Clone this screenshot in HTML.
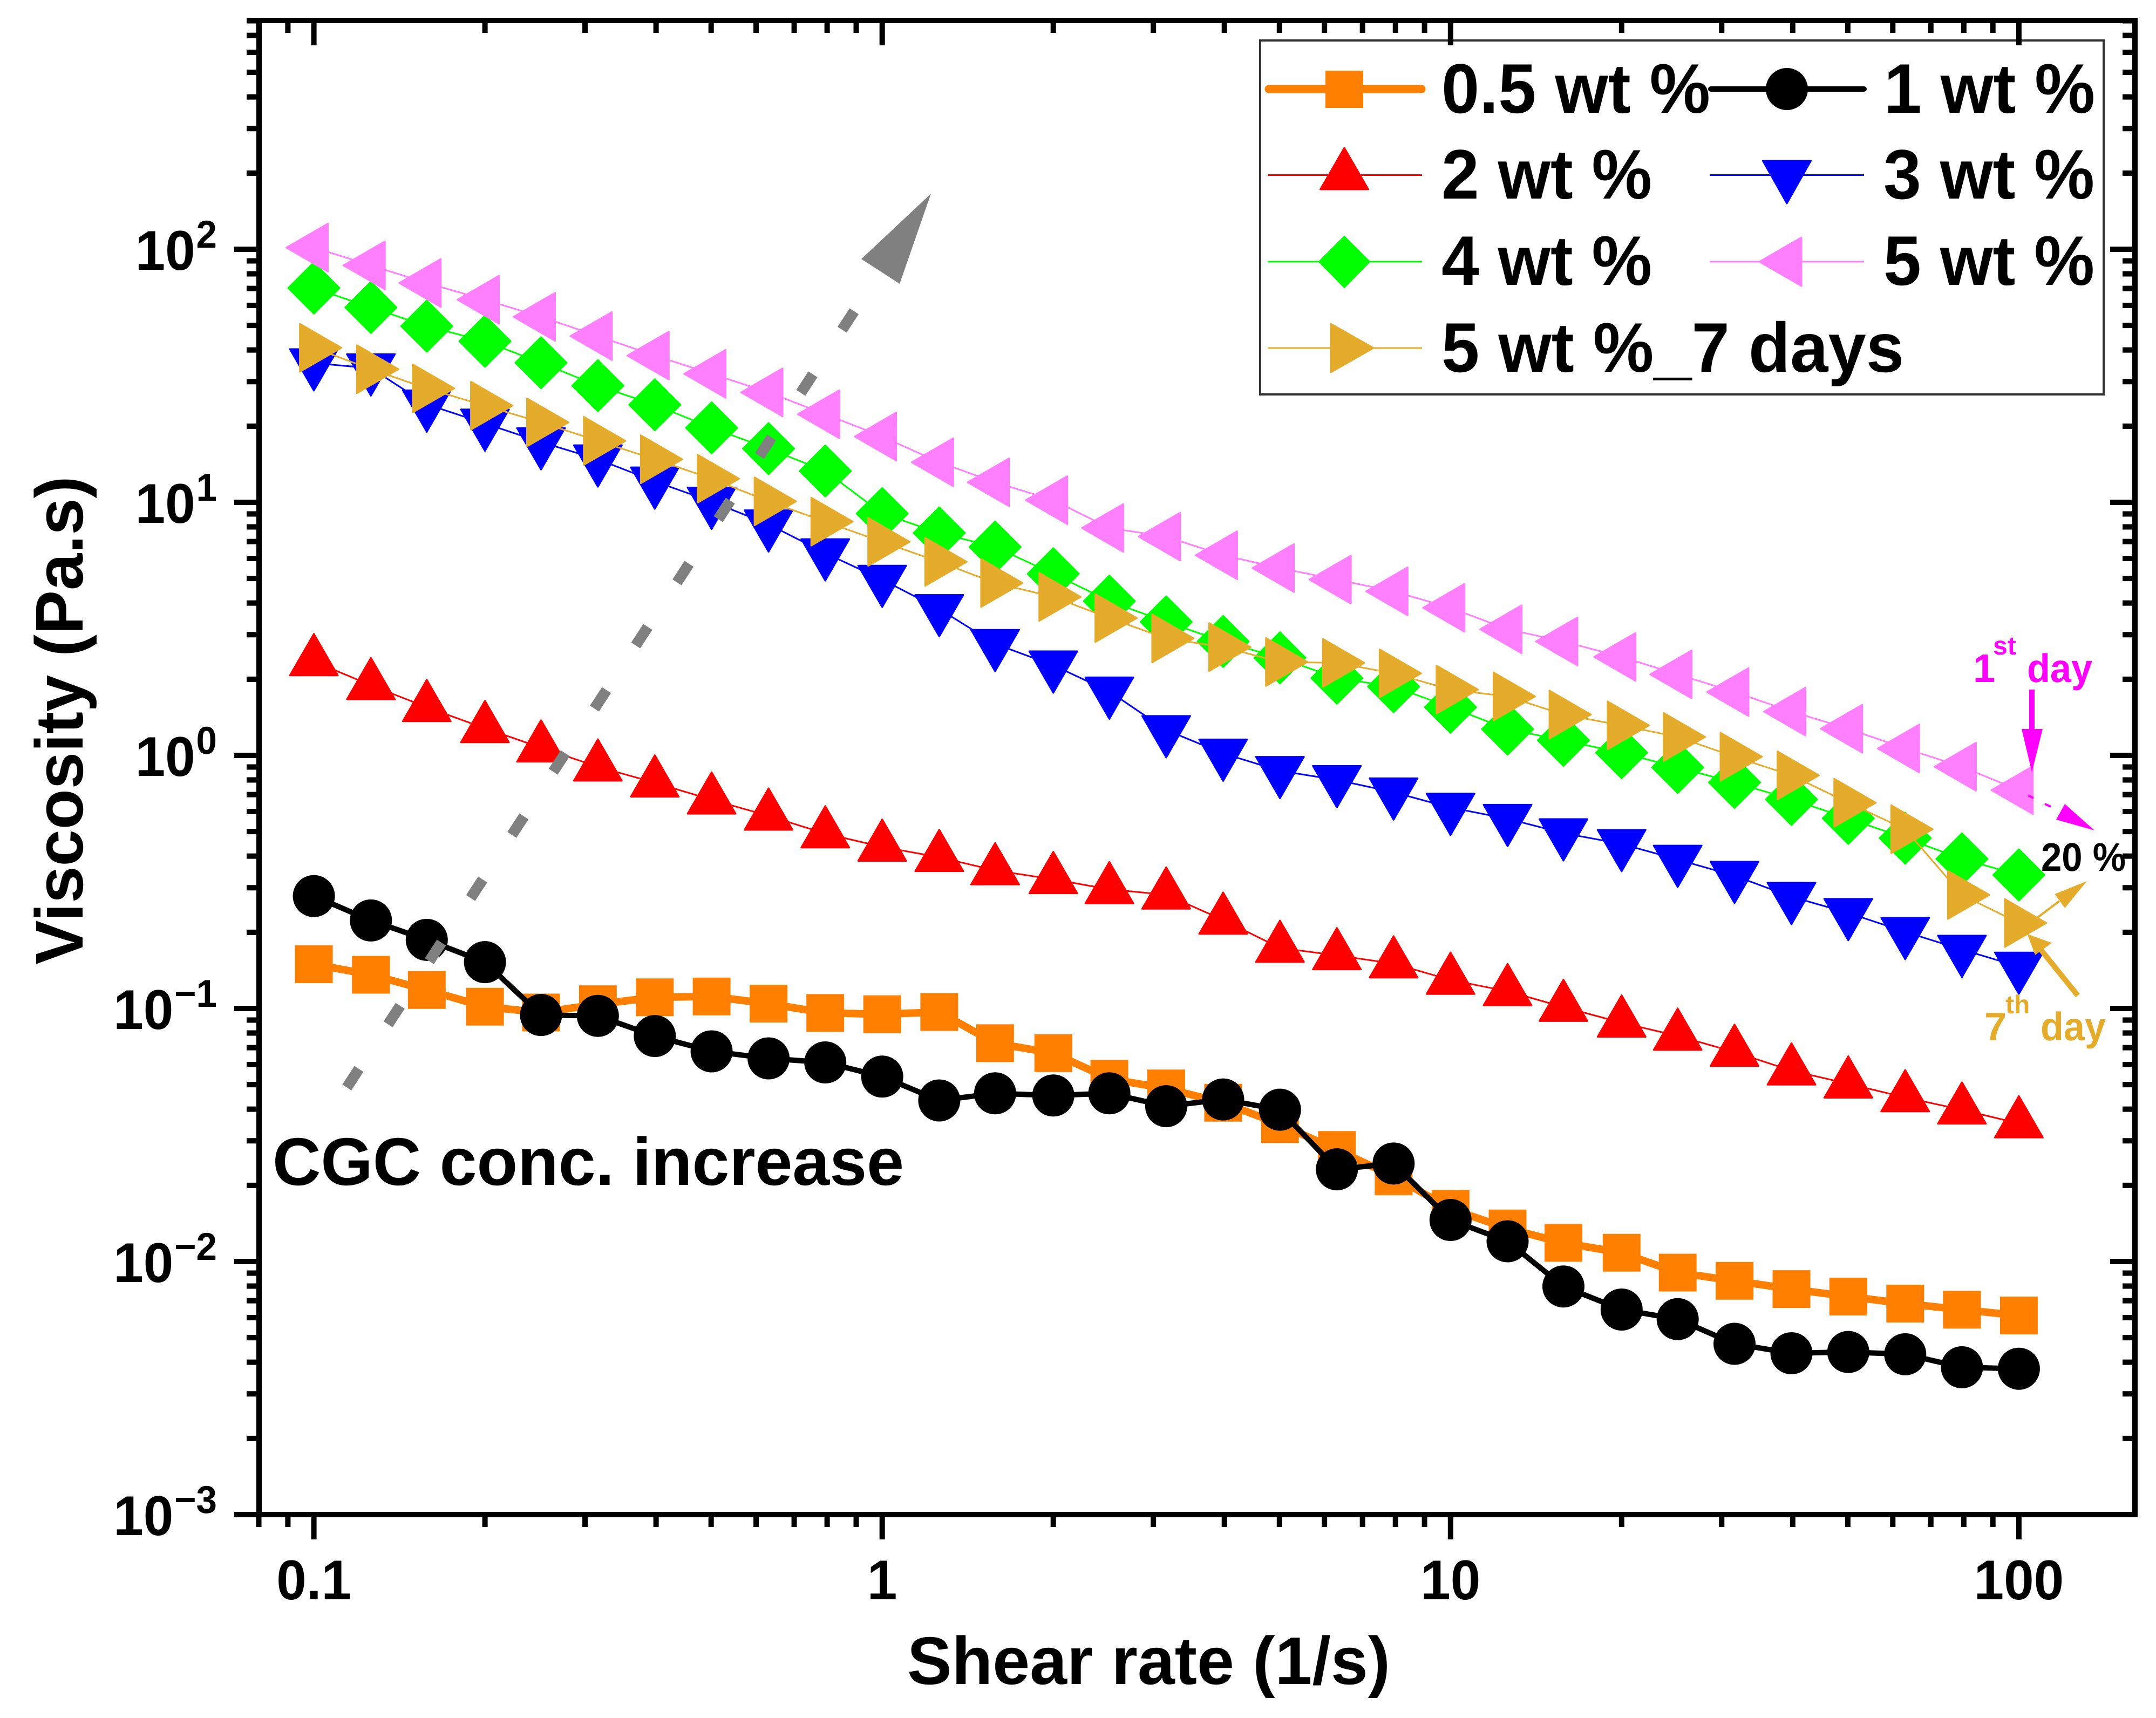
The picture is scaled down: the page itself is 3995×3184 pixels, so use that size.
<!DOCTYPE html>
<html lang="en">
<head>
<meta charset="utf-8">
<title>Viscosity vs shear rate</title>
<style>
html,body{margin:0;padding:0;background:#fff;}
svg{display:block;}
text{font-family:"Liberation Sans",Arial,sans-serif;font-weight:bold;text-rendering:geometricPrecision;}
</style>
</head>
<body>
<svg id="chart" xmlns="http://www.w3.org/2000/svg" width="3995" height="3184" viewBox="0 0 3995 3184">
  <rect x="0" y="0" width="3995" height="3184" fill="#ffffff"/>

  <g>
    <rect x="2335" y="75" width="1563" height="656" fill="#ffffff" stroke="#333333" stroke-width="4"/>
    <g>
      <line x1="2351" y1="165" x2="2634" y2="165" stroke="#FF8000" stroke-width="15" stroke-linecap="round"/>
      <rect x="2456" y="131" width="70" height="69" fill="#FF8000"/>
      <text x="2671" y="209" font-size="130" textLength="498" lengthAdjust="spacingAndGlyphs">0.5 wt %</text>
    </g>
    <g>
      <line x1="3170" y1="165" x2="3454" y2="165" stroke="#000000" stroke-width="10" stroke-linecap="round"/>
      <circle cx="3311" cy="165" r="39" fill="#000000"/>
      <text x="3491" y="209" font-size="130" textLength="391" lengthAdjust="spacingAndGlyphs">1 wt %</text>
    </g>
    <g>
      <line x1="2349" y1="324.5" x2="2635" y2="324.5" stroke="#FF0000" stroke-width="3"/>
      <polygon points="2491,274 2446.5,351 2535.5,351" fill="#FF0000" stroke="#FF0000" stroke-width="3" stroke-linejoin="round"/>
      <text x="2671" y="368" font-size="130" textLength="390" lengthAdjust="spacingAndGlyphs">2 wt %</text>
    </g>
    <g>
      <line x1="3168" y1="324.5" x2="3454" y2="324.5" stroke="#0000FF" stroke-width="3"/>
      <polygon points="3311,377 3266.5,298 3355.5,298" fill="#0000FF" stroke="#0000FF" stroke-width="3" stroke-linejoin="round"/>
      <text x="3490" y="368" font-size="130" textLength="391" lengthAdjust="spacingAndGlyphs">3 wt %</text>
    </g>
    <g>
      <line x1="2349" y1="485" x2="2635" y2="485" stroke="#00FF00" stroke-width="3"/>
      <polygon points="2491,438 2538,485 2491,533 2444,485" fill="#00FF00" stroke="#00FF00" stroke-width="2" stroke-linejoin="round"/>
      <text x="2671" y="528" font-size="130" textLength="390" lengthAdjust="spacingAndGlyphs">4 wt %</text>
    </g>
    <g>
      <line x1="3168" y1="485" x2="3454" y2="485" stroke="#FF80FF" stroke-width="3"/>
      <polygon points="3260,485 3338,440 3338,530" fill="#FF80FF" stroke="#FF80FF" stroke-width="3" stroke-linejoin="round"/>
      <text x="3490" y="528" font-size="130" textLength="391" lengthAdjust="spacingAndGlyphs">5 wt %</text>
    </g>
    <g>
      <line x1="2349" y1="645" x2="2635" y2="645" stroke="#E5AC2C" stroke-width="3"/>
      <polygon points="2545,645 2466,600 2466,690" fill="#E5AC2C" stroke="#E5AC2C" stroke-width="3" stroke-linejoin="round"/>
      <text x="2671" y="689" font-size="130" textLength="857" lengthAdjust="spacingAndGlyphs">5 wt %_7 days</text>
    </g>
  </g>

  <g id="axes"></g>
  <g id="series"></g>

  <text x="1681" y="3121" font-size="125" textLength="895" lengthAdjust="spacingAndGlyphs">Shear rate (1/s)</text>
  <text transform="translate(153,1335) rotate(-90)" x="0" y="0" text-anchor="middle" font-size="125" textLength="905" lengthAdjust="spacingAndGlyphs">Viscosity (Pa.s)</text>
  <text x="505" y="2196" font-size="125" textLength="1170" lengthAdjust="spacingAndGlyphs">CGC conc. increase</text>

  <g>
    <line x1="642.6" y1="2015.4" x2="1582.7" y2="576.8" stroke="#808080" stroke-width="20" stroke-dasharray="41 98.8"/>
    <polygon points="1725,359 1596,480 1667,526" fill="#808080"/>
  </g>

  <g fill="#FF00FF">
    <text x="3656" y="1264" font-size="74">1</text>
    <text x="3693" y="1213" font-size="48">st</text>
    <text x="3756" y="1264" font-size="74" textLength="121" lengthAdjust="spacingAndGlyphs">day</text>
    <rect x="3760" y="1278" width="10" height="74"/>
    <polygon points="3746,1351 3785,1351 3765,1431"/>
  </g>
  <g>
    <line x1="3758" y1="1474" x2="3768" y2="1479" stroke="#FF00FF" stroke-width="4"/>
    <line x1="3789" y1="1490" x2="3800" y2="1495" stroke="#FF00FF" stroke-width="4"/>
    <polygon points="3826,1490 3810,1519 3881,1539" fill="#FF00FF"/>
    <text x="3782" y="1614" font-size="74" textLength="157" lengthAdjust="spacingAndGlyphs">20 %</text>
    <line x1="3776" y1="1700" x2="3816" y2="1670" stroke="#E5AC2C" stroke-width="4"/>
    <polygon points="3867,1633 3807.5,1657 3826,1683" fill="#E5AC2C"/>
  </g>
  <g fill="#E5AC2C">
    <line x1="3850" y1="1845" x2="3780" y2="1758" stroke="#E5AC2C" stroke-width="10"/>
    <polygon points="3756.5,1731 3802,1747.5 3771,1770"/>
    <text x="3677" y="1928" font-size="74">7</text>
    <text x="3716" y="1878" font-size="48">th</text>
    <text x="3781" y="1928" font-size="74" textLength="121" lengthAdjust="spacingAndGlyphs">day</text>
  </g>
</svg>

<script>
const shearRate = [0.1,0.126,0.158,0.2,0.251,0.316,0.398,0.501,0.631,0.794,1,1.26,1.58,2,2.51,3.16,3.98,5.01,6.31,7.94,10,12.6,15.8,20,25.1,31.6,39.8,50.1,63.1,79.4,100];
const visc05 = [0.1495,0.1359,0.1183,0.1016,0.0964,0.1039,0.1107,0.1115,0.1045,0.0960,0.0949,0.0968,0.0729,0.0666,0.0527,0.0483,0.0424,0.0349,0.0276,0.0217,0.01615,0.01351,0.01185,0.01083,0.00904,0.00839,0.00778,0.00727,0.00682,0.00645,0.00612];
const visc1 = [0.278,0.2227,0.1867,0.1524,0.0942,0.0935,0.0778,0.0677,0.0635,0.0612,0.0538,0.0433,0.0462,0.0453,0.0462,0.0411,0.0437,0.0398,0.02314,0.0244,0.01459,0.01202,0.00797,0.00646,0.00592,0.00473,0.00434,0.00439,0.00430,0.00382,0.00377];
const visc2 = [2.353,1.892,1.550,1.280,1.073,0.902,0.780,0.668,0.577,0.491,0.435,0.396,0.351,0.324,0.2956,0.2815,0.2239,0.1734,0.1621,0.1504,0.1296,0.1169,0.1013,0.0878,0.0779,0.0673,0.0568,0.0504,0.0445,0.0398,0.0351];
const visc3 = [35.5,33.9,24.4,20.5,17.3,14.8,12.1,10.07,8.19,6.30,4.95,3.79,2.76,2.27,1.79,1.26,1.018,0.869,0.800,0.715,0.622,0.562,0.493,0.447,0.3875,0.3346,0.2763,0.2386,0.2008,0.1708,0.1465];
const visc4 = [70.3,58.9,49.7,43.3,35.6,28.9,24.3,19.7,16.3,13.3,9.03,7.57,6.66,5.22,4.07,3.37,2.82,2.43,2.02,1.87,1.55,1.27,1.147,1.025,0.896,0.782,0.670,0.564,0.471,0.390,0.337];
const visc5 = [101.5,86.4,73.6,63.2,54.1,45.4,38.0,32.2,27.2,22.3,18.2,14.4,12.0,10.2,7.92,7.32,6.18,5.50,4.95,4.45,3.83,3.15,2.82,2.45,2.09,1.78,1.49,1.275,1.065,0.902,0.729];
const visc5d7 = [40.8,33.6,28.2,24.1,20.7,17.5,14.8,12.4,10.09,8.39,6.98,5.82,4.80,4.23,3.49,2.90,2.68,2.34,2.32,2.11,1.82,1.71,1.45,1.314,1.183,0.988,0.834,0.650,0.511,0.281,0.2176];
const xMajorTicks = [0.1,1,10,100];
const xMajorLabels = ["0.1","1","10","100"];
const xMinorTicks = [0.08,0.09,0.2,0.3,0.4,0.5,0.6,0.7,0.8,0.9,2,3,4,5,6,7,8,9,20,30,40,50,60,70,80,90];
const yMajorTicks = [100,10,1,0.1,0.01,0.001];
const yMajorExponents = ["2","1","0","\u22121","\u22122","\u22123"];
const yMinorMultipliers = [2,3,4,5,6,7,8,9];

const SVGNS = "http://www.w3.org/2000/svg";
const axisTop = 38, axisBottom = 2807, axisLeft = 480, axisRight = 3956;
function xScale(v){ return 581.6 + 1053.1 * (Math.log10(v) + 1); }
function yScale(v){ return 462 + 469 * (2 - Math.log10(v)); }

function make(parent, tag, attrs){
  const el = document.createElementNS(SVGNS, tag);
  for (const k in attrs) el.setAttribute(k, attrs[k]);
  parent.appendChild(el);
  return el;
}

const axes = document.getElementById("axes");

function spine(name, x1, y1, x2, y2){
  const el = make(axes, "line", {x1:x1, y1:y1, x2:x2, y2:y2, stroke:"#000", "stroke-width":10});
  
  
}
spine("left-axis-line", axisLeft, axisTop - 5, axisLeft, axisBottom + 5);
spine("right-axis-line", axisRight, axisTop - 5, axisRight, axisBottom + 5);
spine("top-axis-line", 457, axisTop, axisRight + 5, axisTop);
spine("bottom-axis-line", 434, axisBottom, axisRight + 5, axisBottom);

function xTick(v, len, kind){
  const x = xScale(v);
  const a = make(axes, "line", {x1:x, y1:axisBottom, x2:x, y2:axisBottom + len, stroke:"#000", "stroke-width":10});
  
  
  const b = make(axes, "line", {x1:x, y1:axisTop, x2:x, y2:axisTop + len, stroke:"#000", "stroke-width":10});
  
  
}
function yTick(v, len, kind){
  const y = yScale(v);
  const a = make(axes, "line", {x1:axisLeft, y1:y, x2:axisLeft - len, y2:y, stroke:"#000", "stroke-width":10});
  
  
  const b = make(axes, "line", {x1:axisRight, y1:y, x2:axisRight - len, y2:y, stroke:"#000", "stroke-width":10});
  
  
}

xMinorTicks.forEach(function(v){ xTick(v, 23, "minor"); });
xMajorTicks.forEach(function(v, i){
  xTick(v, 46, "major");
  const t = make(axes, "text", {transform:"translate(" + xScale(v) + ",2964) scale(0.96,1)", "text-anchor":"middle", "font-size":104});
  t.textContent = xMajorLabels[i];
  
  
});

yMajorTicks.forEach(function(v, i){
  yTick(v, 46, "major");
  const base = yScale(v) + 38;
  const t = make(axes, "text", {transform:"translate(402," + base + ") scale(0.96,1)", "text-anchor":"end", "font-size":104});
  const a = make(t, "tspan", {});
  a.textContent = "10";
  const b = make(t, "tspan", {"font-size":72, dy:-41, dx:2});
  b.textContent = yMajorExponents[i];
  
  
});
yMajorTicks.forEach(function(v){
  yMinorMultipliers.forEach(function(m){
    const val = v * m;
    if (val <= 800) yTick(val, 23, "minor");
  });
});

const seriesList = [
  {name:"series-0-5-wt", values:visc05, color:"#FF8000", width:14, shape:"square"},
  {name:"series-1-wt", values:visc1, color:"#000000", width:10, shape:"circle"},
  {name:"series-2-wt", values:visc2, color:"#FF0000", width:3, shape:"up"},
  {name:"series-3-wt", values:visc3, color:"#0000FF", width:3, shape:"down"},
  {name:"series-4-wt", values:visc4, color:"#00FF00", width:3, shape:"diamond"},
  {name:"series-5-wt", values:visc5, color:"#FF80FF", width:3, shape:"left"},
  {name:"series-5-wt-7-days", values:visc5d7, color:"#E5AC2C", width:3, shape:"right"}
];

function marker(parent, shape, x, y, color){
  let el;
  if (shape === "square") {
    el = make(parent, "rect", {x:x - 35, y:y - 35, width:70, height:70, fill:color});
  } else if (shape === "circle") {
    el = make(parent, "circle", {cx:x, cy:y, r:39, fill:color});
  } else {
    let pts;
    if (shape === "up") pts = [[0,-51],[-44.5,26],[44.5,26]];
    if (shape === "down") pts = [[0,51],[-44.5,-26],[44.5,-26]];
    if (shape === "left") pts = [[-51,0],[26,-44.5],[26,44.5]];
    if (shape === "right") pts = [[51,0],[-26,-44.5],[-26,44.5]];
    if (shape === "diamond") pts = [[0,-47.5],[47.5,0],[0,47.5],[-47.5,0]];
    el = make(parent, "polygon", {
      points: pts.map(function(p){ return (x + p[0]) + "," + (y + p[1]); }).join(" "),
      fill:color, stroke:color, "stroke-width":3, "stroke-linejoin":"round"
    });
  }
  return el;
}

const seriesRoot = document.getElementById("series");
seriesList.forEach(function(s){
  const g = make(seriesRoot, "g", {});
  
  
  const line = make(g, "polyline", {
    points: s.values.map(function(v, i){ return xScale(shearRate[i]) + "," + yScale(v); }).join(" "),
    fill:"none", stroke:s.color, "stroke-width":s.width, "stroke-linejoin":"round"
  });
  
  
  s.values.forEach(function(v, i){
    const m = marker(g, s.shape, xScale(shearRate[i]), yScale(v), s.color);
    
    
  });
});
</script>
</body>
</html>
